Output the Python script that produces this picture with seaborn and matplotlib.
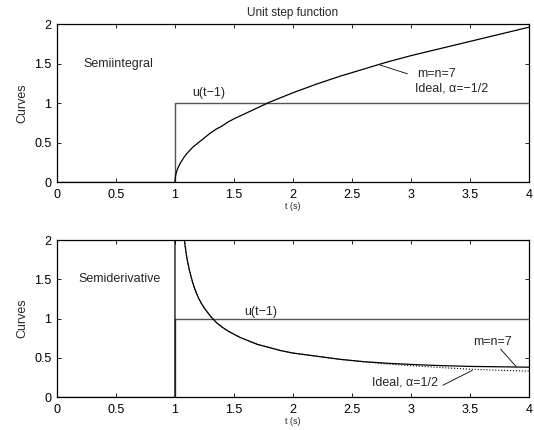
import matplotlib
matplotlib.use("Agg")
import matplotlib.pyplot as plt
import seaborn as sns

sns.set_theme(style="ticks")
plt.rcParams['font.family'] = ['Liberation Sans', 'DejaVu Sans']

# Step input u(t-1)
step_t = [0, 1.0, 1.0, 4.0]
step_u = [0, 0, 1, 1]

# Semiintegral curve
si_t = [1.0, 1.002, 1.005, 1.01, 1.02, 1.03, 1.04, 1.05, 1.075, 1.1, 1.125, 1.15, 1.175, 1.2, 1.25, 1.3, 1.35, 1.4,
        1.45, 1.5, 1.6, 1.7, 1.8, 1.9, 2.0, 2.2, 2.4, 2.6, 2.8, 3.0, 3.25, 3.5, 3.75, 4.0]
si_y = [0.0, 0.05, 0.08, 0.11, 0.16, 0.195, 0.225, 0.25, 0.31, 0.36, 0.40, 0.44, 0.47, 0.50, 0.56, 0.62, 0.67, 0.71,
        0.76, 0.80, 0.87, 0.94, 1.01, 1.07, 1.13, 1.24, 1.34, 1.43, 1.52, 1.60, 1.69, 1.78, 1.87, 1.96]

# Semiderivative, m=n=7 approximation
sd_t = [1.0, 1.0, 1.08, 1.09, 1.1, 1.11, 1.12, 1.135, 1.15, 1.165, 1.18, 1.2, 1.225, 1.25, 1.275, 1.3, 1.35, 1.4,
        1.45, 1.5, 1.55, 1.6, 1.7, 1.8, 1.9, 2.0, 2.2, 2.4, 2.6, 2.8, 3.0, 3.25, 3.5, 3.75, 4.0]
sd_y = [0.0, 2.0, 2.0, 1.88, 1.78, 1.70, 1.63, 1.54, 1.46, 1.39, 1.33, 1.26, 1.19, 1.13, 1.08, 1.03, 0.95, 0.89,
        0.84, 0.80, 0.76, 0.73, 0.67, 0.63, 0.59, 0.56, 0.52, 0.48, 0.45, 0.43, 0.415, 0.40, 0.39, 0.385, 0.38]

# Semiderivative, ideal alpha=1/2
id_t = [1.08, 1.09, 1.1, 1.11, 1.12, 1.135, 1.15, 1.165, 1.18, 1.2, 1.225, 1.25, 1.275, 1.3, 1.35, 1.4,
        1.45, 1.5, 1.55, 1.6, 1.7, 1.8, 1.9, 2.0, 2.2, 2.4, 2.6, 2.8, 3.0, 3.25, 3.5, 3.75, 4.0]
id_y = [2.0, 1.88, 1.78, 1.70, 1.63, 1.54, 1.46, 1.39, 1.33, 1.26, 1.19, 1.13, 1.08, 1.03, 0.95, 0.89,
        0.84, 0.80, 0.76, 0.73, 0.67, 0.63, 0.59, 0.56, 0.52, 0.48, 0.45, 0.42, 0.40, 0.375, 0.355, 0.34, 0.33]

xticks = [0, 0.5, 1, 1.5, 2, 2.5, 3, 3.5, 4]
xticklabels = ["0", "0.5", "1", "1.5", "2", "2.5", "3", "3.5", "4"]
yticks = [0, 0.5, 1, 1.5, 2]
yticklabels = ["0", "0.5", "1", "1.5", "2"]

fig = plt.figure(figsize=(5.34, 4.30), dpi=100)
ax1 = fig.add_axes([0.1067, 0.5767, 0.8839, 0.3674])
ax2 = fig.add_axes([0.1067, 0.0767, 0.8839, 0.3651])

grey = "#555555"
fs = 9

def style(ax):
    ax.set_xlim(0, 4)
    ax.set_ylim(0, 2)
    ax.set_xticks(xticks)
    ax.set_xticklabels(xticklabels)
    ax.set_yticks(yticks)
    ax.set_yticklabels(yticklabels)
    ax.tick_params(direction="in", length=3, width=0.6, top=True, right=True,
                   labelsize=fs, colors="black")
    ax.tick_params(axis="x", pad=5)
    ax.tick_params(axis="y", pad=4)
    for s in ax.spines.values():
        s.set_linewidth(0.9)
        s.set_color("black")
    ax.set_xlabel("t (s)", fontsize=6.5, labelpad=1)
    ax.set_ylabel("Curves", fontsize=9, labelpad=4)

# Top: semiintegral
sns.lineplot(x=step_t, y=step_u, ax=ax1, color=grey, lw=1.0, sort=False, estimator=None)
sns.lineplot(x=si_t, y=si_y, ax=ax1, color="black", lw=0.9, sort=False, estimator=None)
style(ax1)
ax1.set_title("Unit step function", fontsize=8.5, pad=6)
ax1.text(0.22, 1.5, "Semiintegral", fontsize=fs, va="center")
ax1.text(1.15, 1.13, "u(t\u22121)", fontsize=fs, va="center")
ax1.text(3.05, 1.37, "m=n=7", fontsize=fs, va="center")
ax1.plot([2.74, 2.97], [1.48, 1.37], color="black", lw=0.6)
ax1.text(3.03, 1.19, "Ideal, \u03b1=\u22121/2", fontsize=fs, va="center")

# Bottom: semiderivative
sns.lineplot(x=step_t, y=step_u, ax=ax2, color=grey, lw=1.0, sort=False, estimator=None)
sns.lineplot(x=id_t, y=id_y, ax=ax2, color="black", lw=0.8, linestyle=":", sort=False, estimator=None)
sns.lineplot(x=sd_t, y=sd_y, ax=ax2, color="black", lw=0.9, sort=False, estimator=None)
style(ax2)
ax2.text(0.18, 1.5, "Semiderivative", fontsize=fs, va="center")
ax2.text(1.59, 1.08, "u(t\u22121)", fontsize=fs, va="center")
ax2.text(3.53, 0.70, "m=n=7", fontsize=fs, va="center")
ax2.plot([3.76, 3.89], [0.61, 0.39], color="black", lw=0.6)
ax2.text(3.23, 0.18, "Ideal, \u03b1=1/2", fontsize=fs, va="center", ha="right")
ax2.plot([3.27, 3.52], [0.15, 0.34], color="black", lw=0.6)

fig.savefig("out.png", dpi=100)
